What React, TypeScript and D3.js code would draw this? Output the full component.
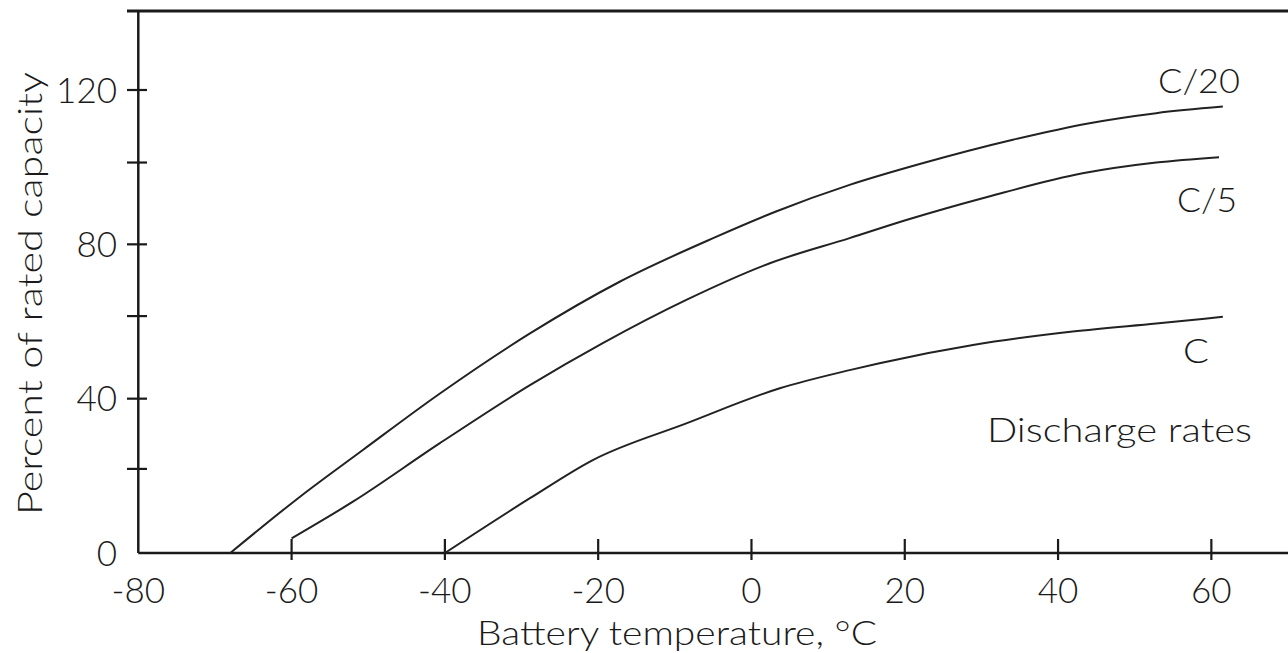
import React from "react";
import * as d3 from "d3";

const xTickValues = [-80, -60, -40, -20, 0, 20, 40, 60];
const xTickLabels = ["-80", "-60", "-40", "-20", "0", "20", "40", "60"];
const yMajorTicks = [0, 40, 80, 120];
const yMajorLabels = ["0", "40", "80", "120"];
const yMinorTicks = [21.8, 61.4, 101.2];

const c20Temp = [-68, -58.9, -50.7, -40.6, -28.9, -17.2, -5.0, 3.2, 12.8, 22.3, 34.1, 44.1, 52.8, 61.5];
const c20Cap = [0, 14.6, 26.7, 41.4, 56.9, 70.3, 81.6, 88.5, 95.4, 101.0, 107.1, 111.4, 114.0, 115.7];

const c5Temp = [-60, -52.0, -40.7, -28.9, -19.4, -8.5, 2.4, 12.8, 20.2, 31.0, 43.2, 52.8, 61.0];
const c5Cap = [3.8, 13.3, 28.4, 43.5, 54.4, 65.6, 75.1, 81.6, 86.3, 92.4, 98.4, 101.2, 102.6];

const cTemp = [-40, -28.9, -20.7, -8.5, 3.7, 12.8, 16.7, 28.9, 41.9, 52.8, 61.5];
const cCap = [0, 14.2, 24.1, 33.6, 42.7, 47.4, 49.2, 53.9, 57.4, 59.5, 61.2];

const seriesNames = ["C/20", "C/5", "C"];

const FONT = "Lato, 'Open Sans', sans-serif";
const INK = "#1a1a1a";

export default function App() {
  const W = 1288, H = 653;
  const x = d3.scaleLinear().domain([-80, 70]).range([138.3, 1288]);
  const y = d3.scaleLinear().domain([0, 120]).range([553, 90]);
  const yTop = y(140.5);

  const line = d3
    .line<[number, number]>()
    .x((d) => x(d[0]))
    .y((d) => y(d[1]))
    .curve(d3.curveMonotoneX);

  const series = [
    c20Temp.map((t, i) => [t, c20Cap[i]] as [number, number]),
    c5Temp.map((t, i) => [t, c5Cap[i]] as [number, number]),
    cTemp.map((t, i) => [t, cCap[i]] as [number, number]),
  ];

  const x0 = x(-80);
  const y0 = y(0);

  return (
    <div style={{ position: "fixed", left: 0, top: 0, width: W, height: H, background: "#fff" }}>
      <svg width={W} height={H} style={{ display: "block" }} fontFamily={FONT}>
        <rect x={0} y={0} width={W} height={H} fill="#fff" />
        {/* frame: top border, left axis, bottom axis */}
        <line x1={127} x2={W} y1={yTop} y2={yTop} stroke={INK} strokeWidth={3} />
        <line x1={x0} x2={x0} y1={yTop} y2={y0} stroke={INK} strokeWidth={2.5} />
        <line x1={x0} x2={W} y1={y0} y2={y0} stroke={INK} strokeWidth={2.5} />

        {/* x ticks */}
        {xTickValues.map((v, i) => (
          <g key={"xt" + i}>
            {v !== -80 && (
              <line x1={x(v)} x2={x(v)} y1={y0 - 14} y2={y0 + 7} stroke={INK} strokeWidth={2.2} />
            )}
            <text x={x(v)} y={603} textAnchor="middle" fontSize={35} fontWeight={300} fill={INK}>
              {xTickLabels[i]}
            </text>
          </g>
        ))}

        {/* y ticks */}
        {yMajorTicks.map((v, i) => (
          <g key={"yt" + i}>
            {v !== 0 && (
              <line x1={127} x2={147} y1={y(v)} y2={y(v)} stroke={INK} strokeWidth={2.2} />
            )}
            <text x={117} y={y(v)} dy="0.36em" textAnchor="end" fontSize={35} fontWeight={300} fill={INK}>
              {yMajorLabels[i]}
            </text>
          </g>
        ))}
        {yMinorTicks.map((v, i) => (
          <line key={"ym" + i} x1={127} x2={147} y1={y(v)} y2={y(v)} stroke={INK} strokeWidth={2.2} />
        ))}

        {/* curves */}
        {series.map((s, i) => (
          <path key={seriesNames[i]} d={line(s) || ""} fill="none" stroke="#222" strokeWidth={2} />
        ))}

        {/* labels */}
        <text x={1158} y={92.7} fontSize={34} fontWeight={300} fill={INK} textLength={82} lengthAdjust="spacingAndGlyphs">
          {seriesNames[0]}
        </text>
        <text x={1177} y={212} fontSize={34} fontWeight={300} fill={INK} textLength={60} lengthAdjust="spacingAndGlyphs">
          {seriesNames[1]}
        </text>
        <text x={1183} y={363} fontSize={34} fontWeight={300} fill={INK} textLength={26} lengthAdjust="spacingAndGlyphs">
          {seriesNames[2]}
        </text>
        <text x={987} y={442} fontSize={34} fontWeight={300} fill={INK} textLength={265} lengthAdjust="spacingAndGlyphs">
          Discharge rates
        </text>

        {/* axis titles */}
        <text x={477} y={645} fontSize={34} fontWeight={300} fill={INK} textLength={400} lengthAdjust="spacingAndGlyphs">
          Battery temperature, °C
        </text>
        <text
          transform="translate(42,515) rotate(-90)"
          fontSize={34}
          fontWeight={300}
          fill={INK}
          textLength={443}
          lengthAdjust="spacingAndGlyphs"
        >
          Percent of rated capacity
        </text>
      </svg>
    </div>
  );
}
